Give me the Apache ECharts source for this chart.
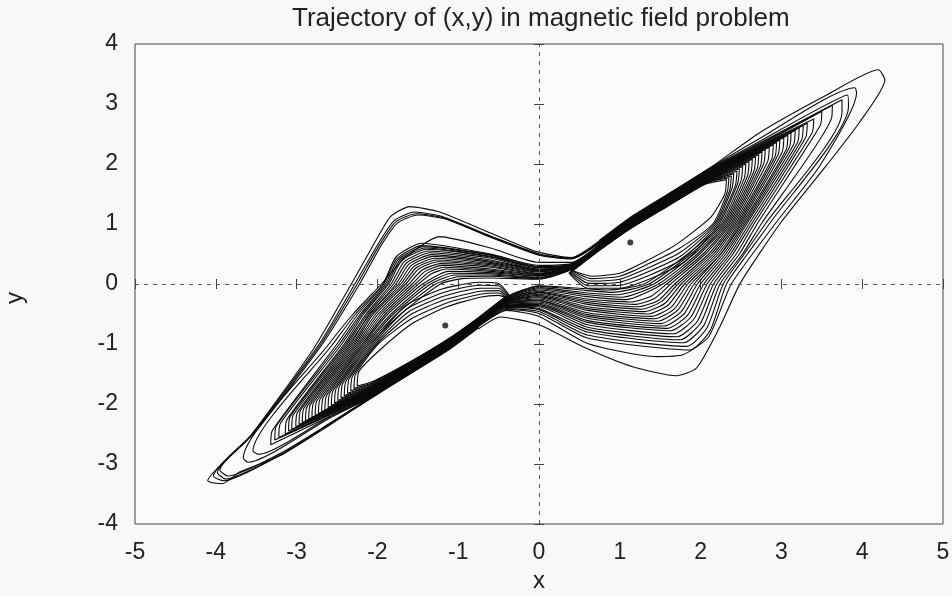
<!DOCTYPE html>
<html><head><meta charset="utf-8">
<script src="https://cdn.jsdelivr.net/npm/echarts@6/dist/echarts.min.js"></script>
<style>html,body{margin:0;padding:0;background:#f8f8f8}#c{width:952px;height:596px}</style>
</head><body><div id="c"></div>
<script>
const titleText = 'Trajectory of (x,y) in magnetic field problem';
const xTicks = [-5,-4,-3,-2,-1,0,1,2,3,4,5];
const yTicks = [-4,-3,-2,-1,0,1,2,3,4];
const foci = [[1.13,0.69],[-1.16,-0.69]];

// loops of the trajectory around the right focus (inner -> outer)
const rightLoops = [
 [[0.42,0.22],[0.75,0.56],[1.13,0.92],[1.6,1.3],[2.05,1.66],[2.32,1.74],[2.3,1.5],[2.13,1.12],[1.7,0.66],[1.35,0.4],[1.0,0.18],[0.65,0.13],[0.42,0.22]],
 [[0.41,0.22],[0.75,0.57],[1.13,0.93],[1.6,1.31],[2.08,1.69],[2.35,1.77],[2.33,1.53],[2.15,1.0],[1.72,0.58],[1.36,0.34],[1.0,0.13],[0.64,0.09],[0.41,0.22]],
 [[0.4,0.21],[0.75,0.57],[1.13,0.93],[1.6,1.31],[2.1,1.7],[2.38,1.8],[2.36,1.56],[2.17,1.0],[1.74,0.52],[1.37,0.28],[1.0,0.08],[0.63,0.05],[0.4,0.21]],
 [[0.39,0.2],[0.75,0.58],[1.13,0.94],[1.6,1.32],[2.1,1.7],[2.41,1.84],[2.39,1.6],[2.19,1.0],[1.76,0.47],[1.38,0.22],[1.0,0.03],[0.62,0.01],[0.39,0.2]],
 [[0.38,0.19],[0.75,0.58],[1.13,0.94],[1.6,1.33],[2.1,1.71],[2.45,1.88],[2.43,1.64],[2.21,1.0],[1.78,0.42],[1.39,0.16],[1.0,-0.02],[0.61,-0.03],[0.38,0.19]],
 [[0.37,0.18],[0.75,0.59],[1.13,0.95],[1.6,1.33],[2.1,1.72],[2.48,1.92],[2.46,1.68],[2.23,1.0],[1.8,0.37],[1.4,0.1],[1.0,-0.07],[0.6,-0.07],[0.37,0.18]],
 [[0.75,0.59],[1.13,0.96],[1.6,1.34],[2.1,1.73],[2.52,1.96],[2.5,1.72],[2.25,1.0],[1.84,0.5],[1.3,0.0],[0.85,-0.1],[0.6,-0.08],[0.0,-0.03],[-0.4,-0.21],[-0.75,-0.57]],
 [[0.75,0.6],[1.13,0.96],[1.6,1.35],[2.1,1.74],[2.56,2.0],[2.54,1.76],[2.27,1.0],[1.88,0.5],[1.36,0.0],[0.91,-0.14],[0.6,-0.11],[0.0,-0.04],[-0.4,-0.22],[-0.75,-0.57]],
 [[0.75,0.6],[1.13,0.97],[1.6,1.35],[2.1,1.74],[2.6,2.04],[2.58,1.8],[2.29,1.0],[1.92,0.5],[1.42,0.0],[0.97,-0.18],[0.6,-0.15],[0.0,-0.06],[-0.4,-0.23],[-0.75,-0.58]],
 [[0.75,0.61],[1.13,0.97],[1.6,1.36],[2.1,1.75],[2.64,2.08],[2.62,1.84],[2.31,1.0],[1.96,0.5],[1.48,0.0],[1.03,-0.22],[0.6,-0.18],[0.0,-0.08],[-0.4,-0.24],[-0.75,-0.58]],
 [[0.75,0.62],[1.13,0.98],[1.6,1.37],[2.1,1.76],[2.68,2.12],[2.66,1.88],[2.33,1.0],[1.99,0.5],[1.53,0.0],[1.08,-0.26],[0.6,-0.21],[0.0,-0.1],[-0.4,-0.25],[-0.75,-0.59]],
 [[0.75,0.62],[1.13,0.99],[1.6,1.37],[2.1,1.77],[2.72,2.16],[2.7,1.92],[2.35,1.0],[2.03,0.5],[1.58,0.0],[1.38,-0.21],[1.13,-0.3],[0.6,-0.25],[0.0,-0.12],[-0.4,-0.25],[-0.75,-0.59]],
 [[0.75,0.63],[1.13,0.99],[1.6,1.38],[2.1,1.78],[2.76,2.2],[2.74,1.96],[2.37,1.0],[2.06,0.5],[1.63,0.0],[1.43,-0.24],[1.18,-0.34],[0.6,-0.28],[0.0,-0.14],[-0.4,-0.26],[-0.75,-0.6]],
 [[0.75,0.63],[1.13,1.0],[1.6,1.38],[2.1,1.78],[2.8,2.24],[2.78,2.0],[2.39,1.0],[2.1,0.5],[1.68,0.0],[1.48,-0.27],[1.23,-0.38],[0.6,-0.31],[0.0,-0.15],[-0.4,-0.27],[-0.75,-0.6]],
 [[0.75,0.64],[1.13,1.0],[1.6,1.39],[2.1,1.79],[2.85,2.28],[2.83,2.04],[2.41,1.0],[2.13,0.5],[1.72,0.0],[1.52,-0.29],[1.27,-0.42],[0.6,-0.34],[0.0,-0.17],[-0.4,-0.28],[-0.75,-0.61]],
 [[0.75,0.64],[1.13,1.01],[1.6,1.4],[2.1,1.8],[2.9,2.32],[2.88,2.08],[2.43,1.0],[2.16,0.5],[1.76,0.0],[1.56,-0.32],[1.31,-0.46],[0.6,-0.38],[0.0,-0.19],[-0.4,-0.29],[-0.75,-0.61]],
 [[0.75,0.65],[1.13,1.02],[1.6,1.4],[2.1,1.81],[2.94,2.36],[2.92,2.12],[2.45,1.0],[2.19,0.5],[1.8,0.0],[1.6,-0.35],[1.35,-0.5],[0.6,-0.41],[0.0,-0.21],[-0.4,-0.29],[-0.75,-0.62]],
 [[0.75,0.65],[1.13,1.02],[1.6,1.41],[2.1,1.82],[2.98,2.4],[2.96,2.16],[2.47,1.0],[2.22,0.5],[1.84,0.0],[1.64,-0.38],[1.39,-0.54],[0.6,-0.44],[0.0,-0.23],[-0.4,-0.3],[-0.75,-0.62]],
 [[0.75,0.66],[1.13,1.03],[1.6,1.42],[2.1,1.82],[3.03,2.44],[3.01,2.2],[2.49,1.0],[2.25,0.5],[1.88,0.0],[1.68,-0.41],[1.43,-0.58],[0.6,-0.48],[0.0,-0.25],[-0.4,-0.31],[-0.75,-0.63]],
 [[0.75,0.66],[1.13,1.03],[1.6,1.42],[2.1,1.83],[3.08,2.48],[3.06,2.24],[2.51,1.0],[2.25,0.5],[1.92,0.0],[1.72,-0.43],[1.47,-0.62],[0.6,-0.51],[0.0,-0.27],[-0.4,-0.32],[-0.75,-0.64]],
 [[0.75,0.67],[1.13,1.04],[1.6,1.43],[2.1,1.84],[3.12,2.52],[3.1,2.28],[2.53,1.0],[2.28,0.5],[1.96,0.0],[1.76,-0.46],[1.51,-0.66],[0.6,-0.54],[0.0,-0.28],[-0.4,-0.33],[-0.75,-0.64]],
 [[0.75,0.68],[1.13,1.05],[1.6,1.44],[2.1,1.85],[3.17,2.56],[3.15,2.32],[2.55,1.0],[2.31,0.5],[2.0,0.0],[1.8,-0.49],[1.55,-0.7],[0.6,-0.57],[0.0,-0.3],[-0.4,-0.34],[-0.75,-0.64]],
 [[0.75,0.68],[1.13,1.05],[1.6,1.44],[2.1,1.86],[3.22,2.6],[3.2,2.36],[2.57,1.0],[2.34,0.5],[2.04,0.0],[1.84,-0.52],[1.59,-0.74],[0.6,-0.61],[0.0,-0.32],[-0.4,-0.34],[-0.75,-0.65]],
 [[0.75,0.69],[1.13,1.06],[1.6,1.45],[2.1,1.86],[3.27,2.64],[3.25,2.4],[2.6,1.0],[2.37,0.5],[2.08,0.0],[1.88,-0.55],[1.63,-0.78],[0.6,-0.64],[0.0,-0.34],[-0.4,-0.35],[-0.75,-0.66]],
 [[0.75,0.69],[1.13,1.06],[1.6,1.46],[2.1,1.87],[3.32,2.68],[3.3,2.44],[2.63,1.0],[2.4,0.5],[2.12,0.0],[1.92,-0.58],[1.67,-0.83],[0.6,-0.68],[0.0,-0.36],[-0.4,-0.36],[-0.75,-0.66]],
 [[0.75,0.7],[1.13,1.07],[1.6,1.46],[2.1,1.88],[3.4,2.75],[3.38,2.52],[2.66,1.0],[2.44,0.5],[2.16,0.0],[1.96,-0.62],[1.71,-0.88],[0.6,-0.72],[0.0,-0.38],[-0.4,-0.37],[-0.75,-0.67]],
 [[0.75,0.7],[1.13,1.08],[1.6,1.47],[2.1,1.89],[2.6,2.22],[3.5,2.88],[3.48,2.64],[2.7,1.0],[2.48,0.5],[2.2,0.0],[2.0,-0.65],[1.75,-0.93],[0.6,-0.76],[0.0,-0.41],[-0.4,-0.38],[-0.75,-0.67]],
 [[0.75,0.71],[1.13,1.08],[1.6,1.48],[2.1,1.9],[2.6,2.24],[3.63,2.98],[3.62,2.76],[2.75,1.0],[2.52,0.5],[2.24,0.0],[2.04,-0.69],[1.79,-0.98],[0.6,-0.8],[0.0,-0.43],[-0.4,-0.39],[-0.75,-0.68]],
 [[0.75,0.71],[1.13,1.09],[1.6,1.48],[2.1,1.9],[2.6,2.26],[3.75,3.07],[3.75,2.86],[2.8,1.0],[2.54,0.5],[2.28,0.0],[2.08,-0.73],[1.83,-1.04],[0.6,-0.85],[0.0,-0.46],[-0.4,-0.41],[-0.75,-0.69]],
 [[0.75,0.72],[1.13,1.09],[1.6,1.49],[2.1,1.91],[2.6,2.28],[3.82,3.15],[3.83,2.95],[2.85,1.0],[2.58,0.5],[2.32,0.0],[2.12,-0.77],[1.87,-1.1],[0.6,-0.9],[0.0,-0.49],[-0.4,-0.42],[-0.75,-0.7]],
 [[0.75,0.72],[1.13,1.1],[1.6,1.5],[2.1,1.92],[2.7,2.4],[3.91,3.27],[3.93,3.18],[3.48,1.98],[2.92,1.0],[2.38,0.0],[2.1,-0.88],[1.78,-1.18],[1.46,-1.21],[0.6,-0.99],[0.0,-0.54],[-0.4,-0.44],[-0.75,-0.71]],
 [[0.75,0.73],[1.13,1.11],[1.6,1.5],[2.1,1.92],[2.74,2.53],[3.56,3.15],[4.2,3.57],[4.28,3.4],[3.97,2.7],[3.56,1.98],[2.98,1.0],[2.49,0.01],[2.24,-0.71],[1.95,-1.4],[1.7,-1.53],[1.16,-1.38],[0.55,-1.05],[0.0,-0.68],[-0.48,-0.55],[-0.75,-0.75]]
];

// loops of the trajectory around the left focus (inner -> outer)
const leftLoops = [
 [[-0.42,-0.22],[-0.75,-0.56],[-1.13,-0.92],[-1.6,-1.3],[-2.05,-1.62],[-2.25,-1.7],[-2.23,-1.46],[-1.97,-1.1],[-1.56,-0.65],[-1.14,-0.38],[-0.73,-0.22],[-0.5,-0.19],[-0.42,-0.22]],
 [[-0.41,-0.22],[-0.75,-0.57],[-1.13,-0.93],[-1.6,-1.31],[-2.07,-1.65],[-2.29,-1.74],[-2.27,-1.5],[-1.99,-1.0],[-1.58,-0.58],[-1.15,-0.32],[-0.73,-0.17],[-0.5,-0.15],[-0.41,-0.22]],
 [[-0.4,-0.21],[-0.75,-0.57],[-1.13,-0.93],[-1.6,-1.31],[-2.08,-1.67],[-2.33,-1.78],[-2.31,-1.54],[-2.01,-1.0],[-1.6,-0.52],[-1.16,-0.26],[-0.73,-0.12],[-0.5,-0.11],[-0.4,-0.21]],
 [[-0.39,-0.2],[-0.75,-0.58],[-1.13,-0.94],[-1.6,-1.32],[-2.1,-1.7],[-2.37,-1.82],[-2.35,-1.58],[-2.03,-1.0],[-1.62,-0.47],[-1.17,-0.2],[-0.73,-0.07],[-0.5,-0.07],[-0.39,-0.2]],
 [[-0.38,-0.19],[-0.75,-0.58],[-1.13,-0.94],[-1.6,-1.33],[-2.1,-1.71],[-2.41,-1.86],[-2.39,-1.62],[-2.05,-1.0],[-1.64,-0.42],[-1.18,-0.14],[-0.74,-0.02],[-0.5,-0.03],[-0.38,-0.19]],
 [[-0.37,-0.18],[-0.75,-0.59],[-1.13,-0.95],[-1.6,-1.33],[-2.1,-1.72],[-2.45,-1.9],[-2.43,-1.66],[-2.07,-1.0],[-1.66,-0.37],[-1.19,-0.08],[-0.74,0.03],[-0.5,0.01],[-0.37,-0.18]],
 [[-0.75,-0.59],[-1.13,-0.96],[-1.6,-1.34],[-2.1,-1.73],[-2.49,-1.94],[-2.47,-1.7],[-2.09,-1.0],[-1.71,-0.5],[-1.22,0.0],[-0.95,0.09],[-0.6,0.1],[0.0,0.08],[0.4,0.24],[0.75,0.58]],
 [[-0.75,-0.6],[-1.13,-0.96],[-1.6,-1.35],[-2.1,-1.74],[-2.53,-1.98],[-2.51,-1.74],[-2.11,-1.0],[-1.76,-0.5],[-1.28,0.0],[-1.0,0.12],[-0.6,0.13],[0.0,0.09],[0.4,0.24],[0.75,0.59]],
 [[-0.75,-0.6],[-1.13,-0.97],[-1.6,-1.35],[-2.1,-1.74],[-2.57,-2.02],[-2.55,-1.78],[-2.13,-1.0],[-1.8,-0.5],[-1.34,0.0],[-1.04,0.15],[-0.6,0.15],[0.0,0.1],[0.4,0.25],[0.75,0.59]],
 [[-0.75,-0.61],[-1.13,-0.97],[-1.6,-1.36],[-2.1,-1.75],[-2.61,-2.06],[-2.59,-1.82],[-2.15,-1.0],[-1.83,-0.5],[-1.39,0.0],[-1.08,0.18],[-0.6,0.17],[0.0,0.11],[0.4,0.25],[0.75,0.59]],
 [[-0.75,-0.62],[-1.13,-0.98],[-1.6,-1.37],[-2.1,-1.76],[-2.65,-2.1],[-2.63,-1.86],[-2.17,-1.0],[-1.87,-0.5],[-1.44,0.0],[-1.12,0.21],[-0.6,0.19],[0.0,0.13],[0.4,0.26],[0.75,0.6]],
 [[-0.75,-0.62],[-1.13,-0.99],[-1.6,-1.37],[-2.1,-1.77],[-2.69,-2.13],[-2.67,-1.89],[-2.19,-1.0],[-1.9,-0.5],[-1.49,0.0],[-1.33,0.17],[-1.15,0.25],[-0.6,0.21],[0.0,0.14],[0.4,0.26],[0.75,0.6]],
 [[-0.75,-0.63],[-1.13,-0.99],[-1.6,-1.38],[-2.1,-1.78],[-2.73,-2.16],[-2.71,-1.92],[-2.21,-1.0],[-1.93,-0.5],[-1.53,0.0],[-1.37,0.19],[-1.18,0.28],[-0.6,0.23],[0.0,0.15],[0.4,0.27],[0.75,0.6]],
 [[-0.75,-0.63],[-1.13,-1.0],[-1.6,-1.38],[-2.1,-1.78],[-2.77,-2.19],[-2.75,-1.95],[-2.23,-1.0],[-1.96,-0.5],[-1.57,0.0],[-1.41,0.21],[-1.2,0.31],[-0.6,0.25],[0.0,0.16],[0.4,0.27],[0.75,0.6]],
 [[-0.75,-0.64],[-1.13,-1.0],[-1.6,-1.39],[-2.1,-1.79],[-2.81,-2.22],[-2.79,-1.98],[-2.25,-1.0],[-1.99,-0.5],[-1.61,0.0],[-1.45,0.23],[-1.22,0.34],[-0.6,0.28],[0.0,0.17],[0.4,0.28],[0.75,0.61]],
 [[-0.75,-0.64],[-1.13,-1.01],[-1.6,-1.4],[-2.1,-1.8],[-2.85,-2.25],[-2.83,-2.01],[-2.27,-1.0],[-2.02,-0.5],[-1.65,0.0],[-1.49,0.25],[-1.25,0.37],[-0.6,0.3],[0.0,0.18],[0.4,0.28],[0.75,0.61]],
 [[-0.75,-0.65],[-1.13,-1.02],[-1.6,-1.4],[-2.1,-1.81],[-2.89,-2.28],[-2.87,-2.04],[-2.29,-1.0],[-2.05,-0.5],[-1.68,0.0],[-1.52,0.27],[-1.27,0.4],[-0.6,0.32],[0.0,0.2],[0.4,0.29],[0.75,0.62]],
 [[-0.75,-0.65],[-1.13,-1.02],[-1.6,-1.41],[-2.1,-1.82],[-2.93,-2.31],[-2.91,-2.07],[-2.31,-1.0],[-2.07,-0.5],[-1.71,0.0],[-1.55,0.29],[-1.29,0.43],[-0.6,0.34],[0.0,0.21],[0.4,0.29],[0.75,0.62]],
 [[-0.75,-0.66],[-1.13,-1.03],[-1.6,-1.42],[-2.1,-1.82],[-2.97,-2.34],[-2.95,-2.1],[-2.33,-1.0],[-2.1,-0.5],[-1.74,0.0],[-1.58,0.31],[-1.31,0.46],[-0.6,0.36],[0.0,0.22],[0.4,0.3],[0.75,0.62]],
 [[-0.75,-0.66],[-1.13,-1.03],[-1.6,-1.42],[-2.1,-1.83],[-3.01,-2.38],[-2.99,-2.14],[-2.35,-1.0],[-2.09,-0.5],[-1.77,0.0],[-1.61,0.33],[-1.33,0.49],[-0.6,0.38],[0.0,0.23],[0.4,0.3],[0.75,0.62]],
 [[-0.75,-0.67],[-1.13,-1.04],[-1.6,-1.43],[-2.1,-1.84],[-3.06,-2.42],[-3.04,-2.18],[-2.37,-1.0],[-2.12,-0.5],[-1.8,0.0],[-1.64,0.35],[-1.35,0.52],[-0.6,0.4],[0.0,0.24],[0.4,0.31],[0.75,0.63]],
 [[-0.75,-0.68],[-1.13,-1.05],[-1.6,-1.44],[-2.1,-1.85],[-3.1,-2.45],[-3.08,-2.21],[-2.39,-1.0],[-2.14,-0.5],[-1.83,0.0],[-1.67,0.37],[-1.37,0.55],[-0.6,0.43],[0.0,0.25],[0.4,0.31],[0.75,0.63]],
 [[-0.75,-0.68],[-1.13,-1.05],[-1.6,-1.44],[-2.1,-1.86],[-3.14,-2.5],[-3.12,-2.26],[-2.41,-1.0],[-2.17,-0.5],[-1.86,0.0],[-1.7,0.39],[-1.39,0.58],[-0.6,0.45],[0.0,0.27],[0.4,0.32],[0.75,0.64]],
 [[-0.75,-0.69],[-1.13,-1.06],[-1.6,-1.45],[-2.1,-1.86],[-3.22,-2.56],[-3.2,-2.32],[-2.44,-1.0],[-2.19,-0.5],[-1.88,0.0],[-1.72,0.4],[-1.41,0.6],[-0.6,0.46],[0.0,0.27],[0.4,0.32],[0.75,0.64]],
 [[-0.75,-0.69],[-1.13,-1.06],[-1.6,-1.46],[-2.1,-1.87],[-3.27,-2.6],[-3.25,-2.36],[-2.47,-1.0],[-2.21,-0.5],[-1.9,0.0],[-1.74,0.41],[-1.43,0.62],[-0.6,0.48],[0.0,0.28],[0.4,0.33],[0.75,0.64]],
 [[-0.75,-0.7],[-1.13,-1.07],[-1.6,-1.46],[-2.1,-1.88],[-3.32,-2.68],[-3.3,-2.44],[-2.5,-1.0],[-2.24,-0.5],[-1.92,0.0],[-1.76,0.42],[-1.45,0.64],[-0.6,0.49],[0.0,0.29],[0.4,0.33],[0.75,0.64]],
 [[-0.75,-0.7],[-1.13,-1.08],[-1.6,-1.47],[-2.1,-1.89],[-2.6,-2.22],[-3.47,-2.84],[-3.54,-2.78],[-2.55,-1.0],[-2.27,-0.5],[-1.93,0.0],[-1.77,0.45],[-1.45,0.68],[-0.6,0.5],[0.0,0.31],[0.4,0.34],[0.75,0.65]],
 [[-0.75,-0.71],[-1.13,-1.08],[-1.6,-1.48],[-2.1,-1.9],[-2.6,-2.24],[-3.6,-2.97],[-3.66,-2.9],[-2.6,-1.0],[-2.3,-0.5],[-1.95,0.0],[-1.64,0.46],[-1.23,0.79],[-0.6,0.6],[0.0,0.36],[0.4,0.36],[0.75,0.66]],
 [[-0.75,-0.71],[-1.13,-1.09],[-1.6,-1.48],[-2.1,-1.9],[-2.6,-2.33],[-3.2,-2.82],[-3.85,-3.2],[-3.95,-3.1],[-3.5,-2.45],[-2.68,-1.0],[-2.22,0.0],[-1.95,0.65],[-1.75,1.02],[-1.5,1.15],[-1.15,1.08],[-0.6,0.78],[0.0,0.48],[0.4,0.42],[0.75,0.68]],
 [[-0.75,-0.72],[-1.13,-1.09],[-1.6,-1.49],[-2.1,-1.91],[-2.6,-2.34],[-3.2,-2.84],[-3.88,-3.25],[-3.98,-3.14],[-3.52,-2.47],[-2.7,-1.0],[-2.25,0.0],[-1.97,0.66],[-1.77,1.04],[-1.52,1.17],[-1.17,1.1],[-0.6,0.79],[0.0,0.49],[0.4,0.42],[0.75,0.69]],
 [[-0.75,-0.72],[-1.13,-1.1],[-1.6,-1.5],[-2.1,-1.92],[-2.6,-2.35],[-3.2,-2.85],[-3.9,-3.28],[-4.03,-3.2],[-3.55,-2.5],[-2.72,-1.0],[-2.28,0.0],[-1.99,0.67],[-1.79,1.06],[-1.54,1.2],[-1.19,1.12],[-0.6,0.8],[0.0,0.5],[0.4,0.43],[0.75,0.7]],
 [[-0.75,-0.73],[-1.13,-1.11],[-1.6,-1.5],[-2.1,-1.92],[-2.6,-2.36],[-3.2,-2.86],[-3.7,-3.13],[-3.92,-3.33],[-4.1,-3.28],[-3.61,-2.6],[-2.8,-1.1],[-2.34,-0.04],[-2.05,0.65],[-1.84,1.12],[-1.6,1.29],[-1.23,1.2],[-0.6,0.85],[-0.03,0.54],[0.4,0.44],[0.75,0.72]]
];

const FONT = '"Liberation Sans", Arial, sans-serif';
const chart = echarts.init(document.getElementById('c'), null, {renderer:'canvas'});
const lineSeries = rightLoops.concat(leftLoops).map(loop => ({
  type:'line', data: loop, showSymbol:false, smooth:0.2, silent:true,
  lineStyle:{color:'#0a0a0a', width:1.1}, animation:false, z:3
}));
const axisCommon = {
  type:'value', splitLine:{show:false},
  axisLine:{show:false},
  axisTick:{show:true, inside:true, length:5, lineStyle:{color:'#444'}}
};
chart.setOption({
  backgroundColor:'#f8f8f8',
  animation:false,
  title:{text:titleText, left:287, top:1, textStyle:{fontFamily:FONT, fontSize:26, fontWeight:'normal', color:'#222'}},
  grid:{left:135, right:9, top:44, bottom:72, containLabel:false, outerBoundsMode:'none',
        show:true, borderColor:'#444', borderWidth:1, backgroundColor:'#fbfbfb'},
  xAxis:[
    Object.assign({}, axisCommon, {position:'bottom', min:xTicks[0], max:xTicks[xTicks.length-1], interval:1,
      name:'x', nameLocation:'middle', nameGap:45, nameTextStyle:{fontFamily:FONT, fontSize:24, color:'#222'},
      axisLabel:{fontFamily:FONT, fontSize:23, color:'#222', margin:17}}),
    Object.assign({}, axisCommon, {position:'top', min:xTicks[0], max:xTicks[xTicks.length-1], interval:1, axisLabel:{show:false}})
  ],
  yAxis:[
    Object.assign({}, axisCommon, {position:'left', min:yTicks[0], max:yTicks[yTicks.length-1], interval:1,
      name:'y', nameLocation:'middle', nameRotate:90, nameGap:108, nameTextStyle:{fontFamily:FONT, fontSize:24, color:'#222', padding:[0,28,0,0]},
      axisLabel:{fontFamily:FONT, fontSize:23, color:'#222', margin:17}}),
    Object.assign({}, axisCommon, {position:'right', min:yTicks[0], max:yTicks[yTicks.length-1], interval:1, axisLabel:{show:false}})
  ],
  series: lineSeries.concat([
    {type:'scatter', data:foci, symbolSize:6, itemStyle:{color:'#111'}, silent:true, z:4,
     markLine:{silent:true, symbol:'none', label:{show:false},
       lineStyle:{color:'#555', width:1, type:[4,5]},
       data:[{xAxis:0},{yAxis:0}]}}
  ])
});
</script>
</body></html>
